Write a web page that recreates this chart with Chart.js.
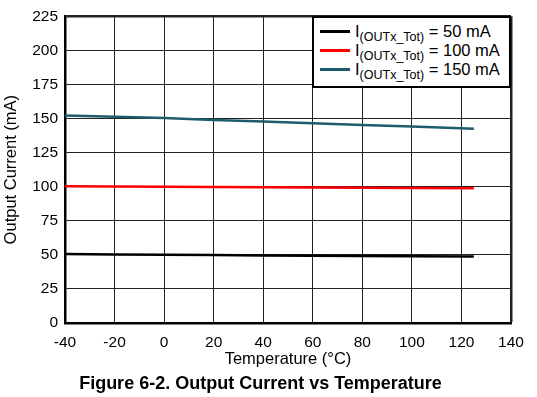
<!DOCTYPE html>
<html>
<head>
<meta charset="utf-8">
<script src="https://cdn.jsdelivr.net/npm/chart.js@4.4.1/dist/chart.umd.min.js"></script>
<style>
  html, body { margin: 0; padding: 0; background: #fff; }
  #wrap { position: relative; width: 537px; height: 397px; font-family: "Liberation Sans", Arial, sans-serif; }
  #legend {
    position: absolute; box-sizing: border-box; width: 199px; height: 72px;
    background: #fff; border: 2px solid #000; padding: 4px 0 0 6px;
    font-size: 16.5px; color: #000;
  }
  #legend .row { height: 19px; line-height: 19px; white-space: nowrap; }
  #legend .sw { display: inline-block; width: 30px; height: 3px; vertical-align: middle; margin-right: 5px; position: relative; top: -1px; }
  #legend sub { font-size: 12.5px; vertical-align: -4px; line-height: 0; }
</style>
</head>
<body>
<div id="wrap">
  <canvas id="js--chart" width="537" height="397"></canvas>
  <div id="legend"></div>
</div>
<script>
const temps = [-40, -20, 0, 20, 40, 60, 80, 100, 125];
const current50 = [50.6, 50.3, 50, 49.8, 49.6, 49.4, 49.2, 49, 48.7];
const current100 = [100.4, 100.2, 100, 99.8, 99.6, 99.4, 99.2, 99, 98.8];
const current150 = [152.2, 151.3, 150.4, 149, 147.8, 146.5, 145.3, 144.2, 142.5];
const seriesNames = ["50 mA", "100 mA", "150 mA"];
const seriesColors = ["#000000", "#ff0000", "#1d5c6c"];

const xTicks = [-40, -20, 0, 20, 40, 60, 80, 100, 120, 140];
const yTicks = [0, 25, 50, 75, 100, 125, 150, 175, 200, 225];

function toPoints(values) {
  return temps.map((t, i) => ({ x: t, y: values[i] }));
}

const allSeries = [current50, current100, current150];

const data = {
  datasets: allSeries.map((vals, i) => ({
    label: seriesNames[i],
    data: toPoints(vals),
    borderColor: seriesColors[i],
    backgroundColor: seriesColors[i],
    borderWidth: 2.5,
    pointRadius: 0,
    tension: 0,
  })),
};

const tickFont = { family: "'Liberation Sans', Arial, sans-serif", size: 15.5 };
const titleFont = { family: "'Liberation Sans', Arial, sans-serif", size: 16.5 };

// html legend, so the subscript stays real text
const legendBox = document.getElementById("legend");
legendBox.innerHTML = seriesNames
  .map((name, i) =>
    '<div class="row"><span class="sw" style="background:' + seriesColors[i] +
    '"></span>I<sub>(OUTx_Tot)</sub> = ' + name + "</div>")
  .join("");

const placeLegend = {
  id: "placeLegend",
  afterRender(chart) {
    const a = chart.chartArea;
    legendBox.style.left = (a.right - 199) + "px";
    legendBox.style.top = a.top + "px";
  },
};

const config = {
  type: "line",
  data: data,
  options: {
    responsive: false,
    animation: false,
    layout: { padding: { left: 10, right: 26, top: 13, bottom: 0 } },
    plugins: {
      legend: { display: false },
      tooltip: { enabled: false },
      title: {
        display: true,
        position: "bottom",
        text: "Figure 6-2. Output Current vs Temperature",
        color: "#000",
        font: { family: "'Liberation Sans', Arial, sans-serif", size: 18, weight: "bold" },
        padding: { top: 5.4, bottom: 2.2 },
      },
    },
    scales: {
      x: {
        type: "linear",
        min: -40,
        max: 140,
        afterBuildTicks: (s) => { s.ticks = xTicks.map((v) => ({ value: v })); },
        afterFit: (s) => { s.height = 44.8; },
        ticks: { color: "#000", font: tickFont, padding: 10, maxRotation: 0 },
        grid: {
          color: "#222",
          lineWidth: (c) => (c.tick && c.tick.value === 140 ? 2.5 : 1),
          drawTicks: false,
        },
        border: { color: "#000", width: 2.5 },
        title: {
          display: true,
          text: "Temperature (°C)",
          color: "#000",
          font: titleFont,
          padding: { top: 0, bottom: -2 },
        },
      },
      y: {
        min: 0,
        max: 225,
        afterBuildTicks: (s) => { s.ticks = yTicks.map((v) => ({ value: v })); },
        afterFit: (s) => { s.width = 55; },
        ticks: { color: "#000", font: tickFont, padding: 7 },
        grid: {
          color: "#222",
          lineWidth: (c) => (c.tick && c.tick.value === 225 ? 2.5 : 1),
          drawTicks: false,
        },
        border: { color: "#000", width: 2.5 },
        title: {
          display: true,
          text: "Output Current (mA)",
          color: "#000",
          font: titleFont,
          padding: { top: -8, bottom: 0 },
        },
      },
    },
  },
  plugins: [placeLegend],
};

new Chart(document.getElementById("js--chart"), config);
</script>
</body>
</html>
